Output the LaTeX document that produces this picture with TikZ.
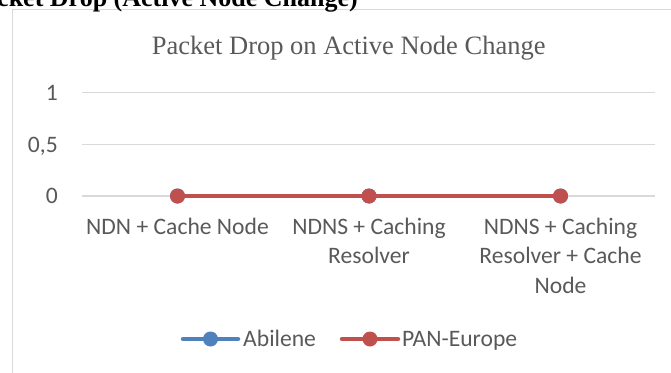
\documentclass[tikz,border=0pt]{standalone}
\usepackage{fontspec}
\setmainfont{Liberation Serif}
\newfontfamily\calibri{Carlito}
\usepackage{xcolor}
\usepackage{tikz}
\usetikzlibrary{positioning}

\definecolor{gridgray}{HTML}{D9D9D9}
\definecolor{labelgray}{HTML}{595959}
\definecolor{abileneblue}{HTML}{4F81BD}
\definecolor{paneured}{HTML}{C0504D}

\begin{document}
\begin{tikzpicture}[x=1pt, y=-1pt]
    % Define styles for the chart parts
    \tikzstyle{gridline} = [draw=gridgray, line width=1.5pt]
    \tikzstyle{marker} = [circle, inner sep=0pt, minimum size=15pt]
    \tikzstyle{ticklabel} = [font=\calibri\fontsize{23.6}{29.5}\selectfont, text=labelgray, inner sep=0pt]
    \tikzstyle{series} = [line width=4.5pt, line cap=round]

    % Visible window, the chart frame runs past the right and bottom edges
    \clip (0,0) rectangle (671,372);
    \draw [gridline] (12.5,400) -- (12.5,9.5) -- (700,9.5);

    % Heading above the chart
    \node [anchor=base east, inner sep=0pt, font=\bfseries\fontsize{26}{30}\selectfont] (heading) at (358,6) {Packet Drop (Active Node Change)};

    % Chart title
    \node [anchor=base, inner sep=0pt, text=labelgray, font=\fontsize{26.5}{30}\selectfont] (title) at (348.7,54) {Packet Drop on Active Node Change};

    % Gridlines and value labels
    \draw [gridline] (82,92.7) -- (655,92.7);
    \draw [gridline] (82,144.7) -- (655,144.7);
    \draw [gridline] (82,196) -- (655,196);
    \node [ticklabel, anchor=base east] (yone) at (58,100) {1};
    \node [ticklabel, anchor=base east] (yhalf) at (58,152) {0,5};
    \node [ticklabel, anchor=base east] (yzero) at (58,203.3) {0};

    % Category labels (base is the last line)
    \node [ticklabel, align=center, anchor=base] (catone) at (177.5,234) {NDN + Cache Node};
    \node [ticklabel, align=center, anchor=base] (cattwo) at (369,263.5) {NDNS + Caching\\Resolver};
    \node [ticklabel, align=center, anchor=base] (catthree) at (560.5,293) {NDNS + Caching\\Resolver + Cache\\Node};

    % Abilene series (hidden below PAN-Europe, all values zero)
    \foreach \i/\x in {1/177.5, 2/369, 3/560.5}
        \node [marker, fill=abileneblue] (abilene\i) at (\x,196) {};
    \draw [series, abileneblue] (abilene1) -- (abilene2) -- (abilene3);

    % PAN-Europe series
    \foreach \i/\x in {1/177.5, 2/369, 3/560.5}
        \node [marker, fill=paneured] (paneu\i) at (\x,196) {};
    \draw [series, paneured] (paneu1) -- (paneu2) -- (paneu3);

    % Legend
    \coordinate (abstart) at (183,339);
    \coordinate (abend) at (238,339);
    \draw [series, abileneblue] (abstart) -- (abend);
    \node [marker, fill=abileneblue] (abkey) at (210.5,339) {};
    \node [ticklabel, anchor=base west] (ablabel) at (243,346) {Abilene};

    \coordinate (pestart) at (342,339);
    \coordinate (peend) at (398,339);
    \draw [series, paneured] (pestart) -- (peend);
    \node [marker, fill=paneured] (pekey) at (370,339) {};
    \node [ticklabel, anchor=base west] (pelabel) at (402,346) {PAN-Europe};
\end{tikzpicture}
\end{document}
